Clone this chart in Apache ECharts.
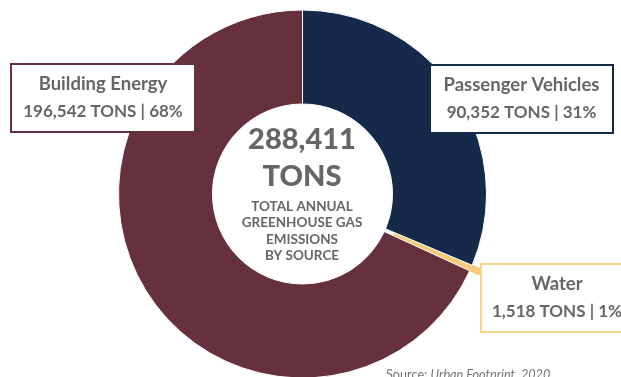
<!DOCTYPE html>
<html>
<head>
<meta charset="utf-8">
<script src="https://cdn.jsdelivr.net/npm/echarts@6/dist/echarts.min.js"></script>
<style>
  html, body { margin: 0; padding: 0; background: #fff; overflow: hidden; }
  /* the water box runs past the right edge in the original, so the canvas is a bit wider than the window */
  #chart { width: 660px; height: 377px; }
</style>
</head>
<body>
<div id="chart"></div>
<script>
// data
const sources = ['Passenger Vehicles', 'Water', 'Building Energy']
const tons = [90352, 1518, 196542]
const colors = ['#15294b', '#f5cb78', '#67303d']
const boxBorders = ['#15294b', '#f7d68c', '#67303d']
const totalText = '288,411'
const centerLines = ['TOTAL ANNUAL', 'GREENHOUSE GAS', 'EMISSIONS', 'BY SOURCE']

// where each label box sits (left, top) and its inner width
const boxPos = [
  { x: 431, y: 66, w: 163 },
  { x: 482, y: 265, w: 132 },
  { x: 12, y: 65, w: 164 }
]

const fmt = (v) => v.toLocaleString('en-US')

const chart = echarts.init(document.getElementById('chart'))

// the water slice is pulled out of the ring, so it gets its own ring
const ringData = sources.map((name, i) => ({
  name: name,
  value: tons[i],
  itemStyle: name === 'Water'
    ? { color: 'rgba(0,0,0,0)', borderWidth: 0 }
    : { color: colors[i] },
  label: { borderColor: boxBorders[i], width: boxPos[i].w }
}))
const pulledData = sources.map((name, i) => ({
  name: name,
  value: tons[i],
  itemStyle: name === 'Water'
    ? { color: colors[i], borderColor: colors[i], borderWidth: 1 }
    : { color: 'rgba(0,0,0,0)', borderWidth: 0 }
}))

const option = {
  animation: false,
  textStyle: { fontFamily: 'Lato' },
  graphic: {
    elements: [
      {
        type: 'text',
        x: 302,
        y: 140,
        style: {
          text: totalText,
          textAlign: 'center',
          textVerticalAlign: 'middle',
          fill: '#666',
          font: '900 29px Lato'
        }
      },
      {
        type: 'text',
        x: 302,
        y: 177,
        style: {
          text: 'TONS',
          textAlign: 'center',
          textVerticalAlign: 'middle',
          fill: '#666',
          font: '900 29px Lato'
        }
      },
      {
        type: 'text',
        x: 302,
        y: 198,
        style: {
          text: centerLines.join('\n'),
          textAlign: 'center',
          fill: '#666',
          font: 'bold 13.5px Lato',
          lineHeight: 16.5
        }
      },
      {
        type: 'text',
        x: 386,
        y: 368,
        style: {
          text: '{a|Source: }{b|Urban Footprint, 2020}',
          rich: {
            a: { fontFamily: 'Lato', fontSize: 12.7, fill: '#777' },
            b: { fontFamily: 'Lato', fontSize: 12.7, fontStyle: 'italic', fill: '#777' }
          }
        }
      }
    ]
  },
  series: [
    {
      type: 'pie',
      center: [302.5, 194],
      radius: [90, 184],
      startAngle: 90,
      clockwise: true,
      avoidLabelOverlap: false,
      emphasis: { disabled: true },
      itemStyle: { borderColor: '#fff', borderWidth: 1 },
      labelLine: { show: false },
      label: {
        show: true,
        position: 'inner',
        overflow: 'none',
        backgroundColor: '#fff',
        borderWidth: 2,
        padding: [5, 9],
        formatter: (p) =>
          '{n|' + p.name + '}\n{v|' + fmt(p.value) + ' TONS | ' + Math.round(p.percent) + '%}',
        rich: {
          n: { fontFamily: 'Lato', fontSize: 18.5, fontWeight: 'bold', color: '#666', lineHeight: 28, align: 'center' },
          v: { fontFamily: 'Lato', fontSize: 17, fontWeight: 'bold', color: '#666', lineHeight: 28, align: 'center' }
        }
      },
      labelLayout: (params) => {
        const b = boxPos[params.dataIndex]
        return { x: b.x, y: b.y, align: 'left', verticalAlign: 'top', hideOverlap: false }
      },
      data: ringData
    },
    {
      type: 'pie',
      silent: true,
      center: [302.5, 194],
      radius: [100, 194],
      startAngle: 90,
      clockwise: true,
      emphasis: { disabled: true },
      label: { show: false },
      labelLine: { show: false },
      z: 1,
      data: pulledData
    }
  ]
}

chart.setOption(option)
</script>
</body>
</html>
